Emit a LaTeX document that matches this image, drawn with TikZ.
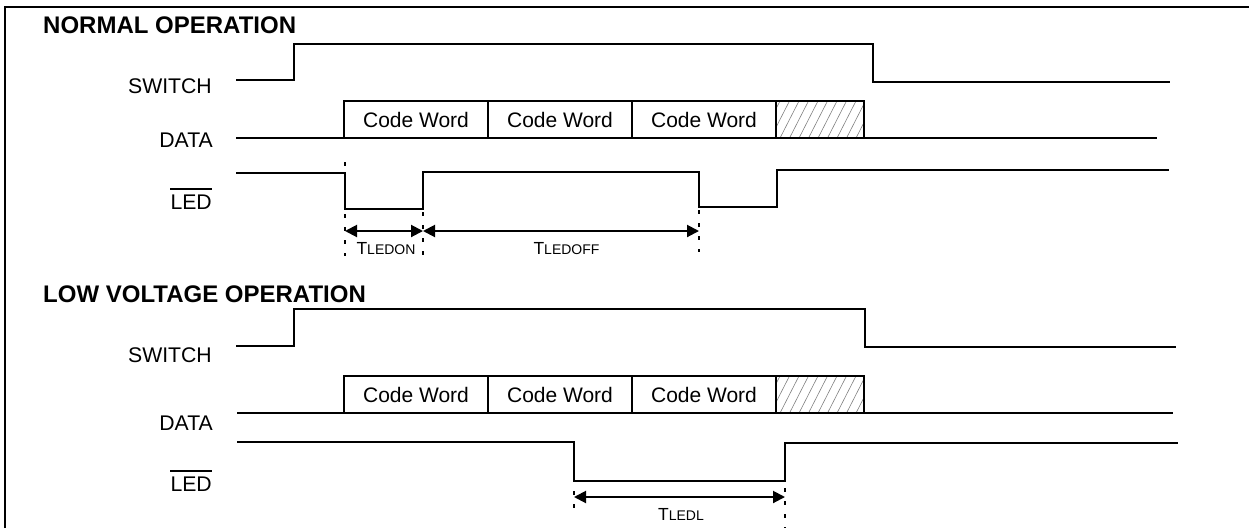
\documentclass[tikz,border=0pt]{standalone}
\usepackage{fontspec}
\setmainfont{Liberation Sans}
\usetikzlibrary{arrows.meta}
\tikzset{
  sig/.style={line width=2pt, line join=miter},
  lbl/.style={font=\fontsize{21.2}{24}\selectfont, inner sep=0pt, anchor=base east},
  ttl/.style={font=\bfseries\fontsize{24}{28}\selectfont, inner sep=0pt, anchor=base west},
  cw/.style={font=\fontsize{21}{24}\selectfont, inner sep=0pt},
  tl/.style={inner sep=0pt, anchor=base},
  mark line/.style={line width=1.1pt, dash pattern=on 4pt off 9pt},
  dim/.style={line width=2pt, {Triangle[length=12pt,width=12pt]}-{Triangle[length=12pt,width=12pt]}},
  hatch/.style={gray, line width=0.6pt},
  ovl/.style={line width=1.5pt}
}
\newcommand{\tlab}[1]{{\fontsize{17.5}{20}\selectfont T}{\fontsize{14}{16}\selectfont #1}}
\begin{document}
\begin{tikzpicture}[x=1pt,y=-1pt]
\useasboundingbox (0,0) rectangle (1249,528);
% frame
\draw[line width=2pt] (5,528) -- (5,6.5) -- (1249,6.5);

% ===== NORMAL OPERATION =====
\node[ttl] (t1) at (43,33) {NORMAL OPERATION};
\node[lbl] (sw1) at (212,93) {SWITCH};
\node[lbl] (da1) at (213,147) {DATA};
\node[lbl] (le1) at (212,209) {LED};
\draw[ovl] ([yshift=5pt]le1.north west) -- ([yshift=5pt]le1.north east);

\draw[sig] (236,80) -- (294,80) -- (294,44) -- (873,44) -- (873,82) -- (1170,82);
\draw[sig] (236,138) -- (1157,138);
\begin{scope}
  \clip (776,101) rectangle (864,138);
  \foreach \k in {0,...,12} \draw[hatch] (760+\k*9.5,140) -- (781+\k*9.5,99);
\end{scope}
\draw[sig] (344,101) rectangle (776,138);
\draw[sig] (488,101) -- (488,138);
\draw[sig] (632,101) -- (632,138);
\draw[sig] (776,101) rectangle (864,138);
\node[cw] (c11) at (416,119.5) {Code Word};
\node[cw] (c12) at (560,119.5) {Code Word};
\node[cw] (c13) at (704,119.5) {Code Word};

\draw[sig] (236,173) -- (345,173) -- (345,209) -- (423,209) -- (423,172) -- (699,172) -- (699,207) -- (777,207) -- (777,170) -- (1169,170);
\draw[mark line] (345,162) -- (345,256);
\draw[mark line] (423,212) -- (423,256);
\draw[mark line] (699,210) -- (699,252);
\coordinate (a1) at (345,231);
\coordinate (a2) at (423,231);
\coordinate (a3) at (699,231);
\draw[dim] (a1) -- (a2);
\draw[dim] (a2) -- (a3);
\node[tl] (ton) at (386,254) {\tlab{LEDON}};
\node[tl] (toff) at (566.5,254) {\tlab{LEDOFF}};

% ===== LOW VOLTAGE OPERATION =====
\node[ttl] (t2) at (43,302) {LOW VOLTAGE OPERATION};
\node[lbl] (sw2) at (212,362) {SWITCH};
\node[lbl] (da2) at (213,430) {DATA};
\node[lbl] (le2) at (212,491) {LED};
\draw[ovl] ([yshift=5pt]le2.north west) -- ([yshift=5pt]le2.north east);

\draw[sig] (236,346) -- (294,346) -- (294,309) -- (865,309) -- (865,347) -- (1176,347);
\draw[sig] (237,413) -- (1173,413);
\begin{scope}
  \clip (776,376) rectangle (864,413);
  \foreach \k in {0,...,12} \draw[hatch] (760+\k*9.5,415) -- (781+\k*9.5,374);
\end{scope}
\draw[sig] (344,376) rectangle (776,413);
\draw[sig] (488,376) -- (488,413);
\draw[sig] (632,376) -- (632,413);
\draw[sig] (776,376) rectangle (864,413);
\node[cw] (c21) at (416,394.5) {Code Word};
\node[cw] (c22) at (560,394.5) {Code Word};
\node[cw] (c23) at (704,394.5) {Code Word};

\draw[sig] (237,442) -- (574,442) -- (574,481) -- (785,481) -- (785,443) -- (1178,443);
\draw[mark line] (574,478) -- (574,508);
\draw[mark line] (785,488) -- (785,528);
\coordinate (b1) at (574,497);
\coordinate (b2) at (785,497);
\draw[dim] (b1) -- (b2);
\node[tl] (tl) at (681,520) {\tlab{LEDL}};
\end{tikzpicture}
\end{document}
